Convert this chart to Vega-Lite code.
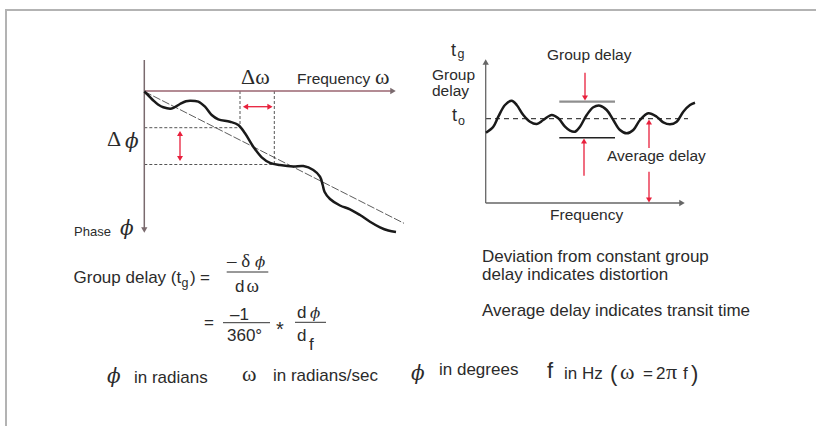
{
  "$schema": "https://vega.github.io/schema/vega-lite/v6.json",
  "width": 816,
  "height": 426,
  "autosize": {"type": "fit", "contains": "padding"},
  "padding": 0,
  "background": "white",
  "config": {"view": {"stroke": null}},
  "datasets": {
    "frame": [
      {"x": 5, "y": 9, "x2": 816, "y2": 11},
      {"x": 5, "y": 9, "x2": 7, "y2": 426}
    ],
    "seg": [
      {"g": "lh", "x": 144.3, "y": 91, "x2": 392, "y2": 91},
      {"g": "lv", "x": 144.3, "y": 60, "x2": 144.3, "y2": 229},
      {"g": "rax", "x": 485.7, "y": 64, "x2": 485.7, "y2": 203},
      {"g": "rax", "x": 485.7, "y": 203, "x2": 680, "y2": 203},
      {"g": "dash", "x": 240, "y": 91, "x2": 240, "y2": 127.7},
      {"g": "dash", "x": 274.3, "y": 91, "x2": 274.3, "y2": 164.5},
      {"g": "dash", "x": 144.3, "y": 127.7, "x2": 240, "y2": 127.7},
      {"g": "dash", "x": 144.3, "y": 164.5, "x2": 274.3, "y2": 164.5},
      {"g": "dashdot", "x": 144.3, "y": 91.5, "x2": 404, "y2": 223.3},
      {"g": "rdash", "x": 486, "y": 118.7, "x2": 688, "y2": 118.7},
      {"g": "red", "x": 247, "y": 106.7, "x2": 268, "y2": 106.7},
      {"g": "red", "x": 180, "y": 135, "x2": 180, "y2": 157},
      {"g": "red", "x": 585, "y": 72.7, "x2": 585, "y2": 96},
      {"g": "red", "x": 584, "y": 143, "x2": 584, "y2": 175.7},
      {"g": "red", "x": 649, "y": 124, "x2": 649, "y2": 148},
      {"g": "red", "x": 649, "y": 171.7, "x2": 649, "y2": 198},
      {"g": "bar", "x": 559.3, "y": 101.7, "x2": 615, "y2": 101.7},
      {"g": "blk", "x": 559.3, "y": 137.7, "x2": 615, "y2": 137.7},
      {"g": "frac", "x": 226.7, "y": 272, "x2": 268.3, "y2": 272},
      {"g": "frac", "x": 223, "y": 322.7, "x2": 270, "y2": 322.7},
      {"g": "frac", "x": 295, "y": 322.3, "x2": 326, "y2": 322.3}
    ],
    "heads": [
      {"g": "lax", "x": 144.3, "y": 230, "d": "down"},
      {"g": "lax", "x": 393, "y": 91, "d": "right"},
      {"g": "rax", "x": 485.7, "y": 62, "d": "up"},
      {"g": "rax", "x": 682, "y": 203, "d": "right"},
      {"g": "red", "x": 245.5, "y": 106.7, "d": "left"},
      {"g": "red", "x": 270, "y": 106.7, "d": "right"},
      {"g": "red", "x": 180, "y": 133.5, "d": "up"},
      {"g": "red", "x": 180, "y": 158.5, "d": "down"},
      {"g": "red", "x": 585, "y": 98, "d": "down"},
      {"g": "red", "x": 584, "y": 141, "d": "up"},
      {"g": "red", "x": 649, "y": 122, "d": "up"},
      {"g": "red", "x": 649, "y": 200, "d": "down"}
    ],
    "curves": [
      {"c": "phase", "x": 144.3, "y": 91.5},
      {"c": "phase", "x": 148, "y": 95},
      {"c": "phase", "x": 153.3, "y": 100.5},
      {"c": "phase", "x": 158, "y": 104.5},
      {"c": "phase", "x": 163.3, "y": 107.3},
      {"c": "phase", "x": 171.7, "y": 108.5},
      {"c": "phase", "x": 180, "y": 104},
      {"c": "phase", "x": 186, "y": 101.3},
      {"c": "phase", "x": 190, "y": 100.7},
      {"c": "phase", "x": 198.3, "y": 101.7},
      {"c": "phase", "x": 205, "y": 106.7},
      {"c": "phase", "x": 211.7, "y": 115},
      {"c": "phase", "x": 218.3, "y": 119.3},
      {"c": "phase", "x": 230, "y": 121.7},
      {"c": "phase", "x": 238.3, "y": 125},
      {"c": "phase", "x": 245, "y": 133.3},
      {"c": "phase", "x": 253.3, "y": 146.7},
      {"c": "phase", "x": 261.7, "y": 157.3},
      {"c": "phase", "x": 270, "y": 162.8},
      {"c": "phase", "x": 280, "y": 165},
      {"c": "phase", "x": 293.3, "y": 166.5},
      {"c": "phase", "x": 303.3, "y": 166},
      {"c": "phase", "x": 313.3, "y": 170},
      {"c": "phase", "x": 320, "y": 176.7},
      {"c": "phase", "x": 322.7, "y": 185},
      {"c": "phase", "x": 324.5, "y": 191.7},
      {"c": "phase", "x": 330, "y": 199},
      {"c": "phase", "x": 340, "y": 205.5},
      {"c": "phase", "x": 350, "y": 209.3},
      {"c": "phase", "x": 360, "y": 215},
      {"c": "phase", "x": 370, "y": 221.7},
      {"c": "phase", "x": 380, "y": 227.3},
      {"c": "phase", "x": 388.3, "y": 230.5},
      {"c": "phase", "x": 396, "y": 232},
      {"c": "delay", "x": 486, "y": 132.7},
      {"c": "delay", "x": 493.3, "y": 126.7},
      {"c": "delay", "x": 498.3, "y": 116.7},
      {"c": "delay", "x": 505, "y": 105},
      {"c": "delay", "x": 511.7, "y": 100.7},
      {"c": "delay", "x": 516.7, "y": 105},
      {"c": "delay", "x": 523.3, "y": 115},
      {"c": "delay", "x": 530, "y": 121.7},
      {"c": "delay", "x": 536.7, "y": 124},
      {"c": "delay", "x": 543.3, "y": 120},
      {"c": "delay", "x": 551.7, "y": 115},
      {"c": "delay", "x": 558.3, "y": 118.3},
      {"c": "delay", "x": 565, "y": 126.7},
      {"c": "delay", "x": 570, "y": 130.7},
      {"c": "delay", "x": 575, "y": 131.7},
      {"c": "delay", "x": 580, "y": 126.7},
      {"c": "delay", "x": 586.7, "y": 115},
      {"c": "delay", "x": 593.3, "y": 107.3},
      {"c": "delay", "x": 600, "y": 105.7},
      {"c": "delay", "x": 606.7, "y": 110},
      {"c": "delay", "x": 613.3, "y": 120},
      {"c": "delay", "x": 620, "y": 130},
      {"c": "delay", "x": 626.7, "y": 133.3},
      {"c": "delay", "x": 633.3, "y": 130},
      {"c": "delay", "x": 640, "y": 120},
      {"c": "delay", "x": 648.3, "y": 113.3},
      {"c": "delay", "x": 656.7, "y": 116.7},
      {"c": "delay", "x": 663.3, "y": 122.3},
      {"c": "delay", "x": 670, "y": 124.3},
      {"c": "delay", "x": 676.7, "y": 121.7},
      {"c": "delay", "x": 683.3, "y": 111.7},
      {"c": "delay", "x": 690, "y": 105},
      {"c": "delay", "x": 695, "y": 102.7}
    ],
    "txt": [
      {"r": "lab", "x": 297, "y": 84, "t": "Frequency"},
      {"r": "lab", "x": 547, "y": 60, "t": "Group delay"},
      {"r": "lab", "x": 607, "y": 161, "t": "Average delay"},
      {"r": "lab", "x": 550, "y": 220, "t": "Frequency"},
      {"r": "lab", "x": 432, "y": 80, "t": "Group"},
      {"r": "lab", "x": 432, "y": 96, "t": "delay"},
      {"r": "body", "x": 482, "y": 261.5, "t": "Deviation from constant group"},
      {"r": "body", "x": 482, "y": 279.5, "t": "delay indicates distortion"},
      {"r": "body", "x": 482, "y": 316, "t": "Average delay indicates transit time"},
      {"r": "body", "x": 73.5, "y": 283, "t": "Group delay (t"},
      {"r": "body", "x": 190, "y": 283, "t": ")"},
      {"r": "body", "x": 200, "y": 283, "t": "="},
      {"r": "body", "x": 204, "y": 328, "t": "="},
      {"r": "body", "x": 230, "y": 320, "t": "–1"},
      {"r": "body", "x": 227, "y": 341, "t": "360°"},
      {"r": "body", "x": 235, "y": 291.5, "t": "d"},
      {"r": "body", "x": 297, "y": 318, "t": "d"},
      {"r": "body", "x": 297, "y": 341, "t": "d"},
      {"r": "body", "x": 309, "y": 350, "t": "f"},
      {"r": "body", "x": 134, "y": 383, "t": "in radians"},
      {"r": "body", "x": 273, "y": 381, "t": "in radians/sec"},
      {"r": "body", "x": 439, "y": 375, "t": "in degrees"},
      {"r": "body", "x": 564, "y": 379, "t": "in Hz"},
      {"r": "body", "x": 643, "y": 379, "t": "="},
      {"r": "body", "x": 656, "y": 379, "t": "2"},
      {"r": "body", "x": 683, "y": 379, "t": "f"},
      {"r": "t", "x": 451, "y": 56, "t": "t"},
      {"r": "t", "x": 452, "y": 121, "t": "t"},
      {"r": "sub", "x": 457.5, "y": 58, "t": "g"},
      {"r": "sub", "x": 458, "y": 125, "t": "o"},
      {"r": "sub", "x": 181.5, "y": 287, "t": "g"},
      {"r": "small", "x": 74, "y": 236, "t": "Phase"},
      {"r": "big", "x": 610, "y": 381, "t": "("},
      {"r": "big", "x": 691, "y": 381, "t": ")"},
      {"r": "big", "x": 547, "y": 378, "t": "f"},
      {"r": "star", "x": 276, "y": 336, "t": "*"},
      {"r": "gr", "x": 241, "y": 83.5, "t": "Δω"},
      {"r": "gr", "x": 375, "y": 84, "t": "ω"},
      {"r": "gr", "x": 107, "y": 146, "t": "Δ"},
      {"r": "gr", "x": 242, "y": 381, "t": "ω"},
      {"r": "gr", "x": 620, "y": 379, "t": "ω"},
      {"r": "gr", "x": 666, "y": 379, "t": "π"},
      {"r": "grs", "x": 227, "y": 267, "t": "– δ"},
      {"r": "grs", "x": 246.5, "y": 291.5, "t": "ω"},
      {"r": "phi", "x": 125, "y": 148, "t": "ϕ"},
      {"r": "phi", "x": 120, "y": 235, "t": "ϕ"},
      {"r": "phi", "x": 107, "y": 383, "t": "ϕ"},
      {"r": "phi", "x": 411, "y": 380, "t": "ϕ"},
      {"r": "phis", "x": 255, "y": 267, "t": "ϕ"},
      {"r": "phis", "x": 310, "y": 318, "t": "ϕ"}
    ]
  },
  "encoding": {
    "x": {"field": "x", "type": "quantitative", "scale": {"domain": [0, 816], "nice": false, "zero": false}, "axis": null},
    "y": {"field": "y", "type": "quantitative", "scale": {"domain": [0, 426], "nice": false, "zero": false, "reverse": true}, "axis": null}
  },
  "layer": [
    {"data": {"name": "frame"}, "mark": {"type": "rect", "color": "#b3b3b3", "strokeWidth": 0}, "encoding": {"x2": {"field": "x2"}, "y2": {"field": "y2"}}},
    {"data": {"name": "seg"}, "transform": [{"filter": "datum.g == 'dash'"}], "mark": {"type": "rule", "color": "#555555", "strokeWidth": 1, "strokeDash": [3, 2]}, "encoding": {"x2": {"field": "x2"}, "y2": {"field": "y2"}}},
    {"data": {"name": "seg"}, "transform": [{"filter": "datum.g == 'dashdot'"}], "mark": {"type": "rule", "color": "#333333", "strokeWidth": 0.8, "strokeDash": [8, 2]}, "encoding": {"x2": {"field": "x2"}, "y2": {"field": "y2"}}},
    {"data": {"name": "seg"}, "transform": [{"filter": "datum.g == 'rdash'"}], "mark": {"type": "rule", "color": "#444444", "strokeWidth": 1.2, "strokeDash": [5, 4]}, "encoding": {"x2": {"field": "x2"}, "y2": {"field": "y2"}}},
    {"data": {"name": "seg"}, "transform": [{"filter": "datum.g == 'lh'"}], "mark": {"type": "rule", "color": "#9a6570", "strokeWidth": 1.5}, "encoding": {"x2": {"field": "x2"}, "y2": {"field": "y2"}}},
    {"data": {"name": "seg"}, "transform": [{"filter": "datum.g == 'lv'"}], "mark": {"type": "rule", "color": "#7a6a6e", "strokeWidth": 1.5}, "encoding": {"x2": {"field": "x2"}, "y2": {"field": "y2"}}},
    {"data": {"name": "seg"}, "transform": [{"filter": "datum.g == 'rax'"}], "mark": {"type": "rule", "color": "#666666", "strokeWidth": 1.3}, "encoding": {"x2": {"field": "x2"}, "y2": {"field": "y2"}}},
    {"data": {"name": "seg"}, "transform": [{"filter": "datum.g == 'red'"}], "mark": {"type": "rule", "color": "#e8203c", "strokeWidth": 1.3}, "encoding": {"x2": {"field": "x2"}, "y2": {"field": "y2"}}},
    {"data": {"name": "seg"}, "transform": [{"filter": "datum.g == 'bar'"}], "mark": {"type": "rule", "color": "#8f8f8f", "strokeWidth": 2.2}, "encoding": {"x2": {"field": "x2"}, "y2": {"field": "y2"}}},
    {"data": {"name": "seg"}, "transform": [{"filter": "datum.g == 'blk'"}], "mark": {"type": "rule", "color": "#222222", "strokeWidth": 1.5}, "encoding": {"x2": {"field": "x2"}, "y2": {"field": "y2"}}},
    {"data": {"name": "seg"}, "transform": [{"filter": "datum.g == 'frac'"}], "mark": {"type": "rule", "color": "#333333", "strokeWidth": 1}, "encoding": {"x2": {"field": "x2"}, "y2": {"field": "y2"}}},
    {"data": {"name": "curves"}, "mark": {"type": "line", "color": "#1a1a1a", "strokeWidth": 2.5, "interpolate": "catmull-rom"}, "encoding": {"detail": {"field": "c"}}},
    {"data": {"name": "heads"}, "transform": [{"filter": "datum.g == 'lax'"}], "mark": {"type": "point", "filled": true, "color": "#7a6a6e", "size": 40, "opacity": 1}, "encoding": {"shape": {"field": "d", "type": "nominal", "scale": {"domain": ["up", "down", "left", "right"], "range": ["triangle-up", "triangle-down", "triangle-left", "triangle-right"]}, "legend": null}}},
    {"data": {"name": "heads"}, "transform": [{"filter": "datum.g == 'rax'"}], "mark": {"type": "point", "filled": true, "color": "#666666", "size": 40, "opacity": 1}, "encoding": {"shape": {"field": "d", "type": "nominal", "scale": {"domain": ["up", "down", "left", "right"], "range": ["triangle-up", "triangle-down", "triangle-left", "triangle-right"]}, "legend": null}}},
    {"data": {"name": "heads"}, "transform": [{"filter": "datum.g == 'red'"}], "mark": {"type": "point", "filled": true, "color": "#e8203c", "size": 36, "opacity": 1}, "encoding": {"shape": {"field": "d", "type": "nominal", "scale": {"domain": ["up", "down", "left", "right"], "range": ["triangle-up", "triangle-down", "triangle-left", "triangle-right"]}, "legend": null}}},
    {"data": {"name": "txt"}, "transform": [{"filter": "datum.r == 'lab'"}], "mark": {"type": "text", "align": "left", "baseline": "alphabetic", "font": "Liberation Sans", "fontSize": 15.5, "color": "#2b2b2b"}, "encoding": {"text": {"field": "t"}}},
    {"data": {"name": "txt"}, "transform": [{"filter": "datum.r == 'body'"}], "mark": {"type": "text", "align": "left", "baseline": "alphabetic", "font": "Liberation Sans", "fontSize": 17, "color": "#2b2b2b"}, "encoding": {"text": {"field": "t"}}},
    {"data": {"name": "txt"}, "transform": [{"filter": "datum.r == 't'"}], "mark": {"type": "text", "align": "left", "baseline": "alphabetic", "font": "Liberation Sans", "fontSize": 18, "color": "#2b2b2b"}, "encoding": {"text": {"field": "t"}}},
    {"data": {"name": "txt"}, "transform": [{"filter": "datum.r == 'sub'"}], "mark": {"type": "text", "align": "left", "baseline": "alphabetic", "font": "Liberation Sans", "fontSize": 12.5, "color": "#2b2b2b"}, "encoding": {"text": {"field": "t"}}},
    {"data": {"name": "txt"}, "transform": [{"filter": "datum.r == 'small'"}], "mark": {"type": "text", "align": "left", "baseline": "alphabetic", "font": "Liberation Sans", "fontSize": 13, "color": "#2b2b2b"}, "encoding": {"text": {"field": "t"}}},
    {"data": {"name": "txt"}, "transform": [{"filter": "datum.r == 'big'"}], "mark": {"type": "text", "align": "left", "baseline": "alphabetic", "font": "Liberation Sans", "fontSize": 22, "color": "#2b2b2b"}, "encoding": {"text": {"field": "t"}}},
    {"data": {"name": "txt"}, "transform": [{"filter": "datum.r == 'star'"}], "mark": {"type": "text", "align": "left", "baseline": "alphabetic", "font": "Liberation Sans", "fontSize": 20, "color": "#2b2b2b"}, "encoding": {"text": {"field": "t"}}},
    {"data": {"name": "txt"}, "transform": [{"filter": "datum.r == 'gr'"}], "mark": {"type": "text", "align": "left", "baseline": "alphabetic", "font": "Liberation Serif", "fontSize": 22, "color": "#2b2b2b"}, "encoding": {"text": {"field": "t"}}},
    {"data": {"name": "txt"}, "transform": [{"filter": "datum.r == 'grs'"}], "mark": {"type": "text", "align": "left", "baseline": "alphabetic", "font": "Liberation Serif", "fontSize": 19, "color": "#2b2b2b"}, "encoding": {"text": {"field": "t"}}},
    {"data": {"name": "txt"}, "transform": [{"filter": "datum.r == 'phi'"}], "mark": {"type": "text", "align": "left", "baseline": "alphabetic", "font": "DejaVu Serif", "fontStyle": "italic", "fontSize": 20, "color": "#2b2b2b"}, "encoding": {"text": {"field": "t"}}},
    {"data": {"name": "txt"}, "transform": [{"filter": "datum.r == 'phis'"}], "mark": {"type": "text", "align": "left", "baseline": "alphabetic", "font": "DejaVu Serif", "fontStyle": "italic", "fontSize": 15, "color": "#2b2b2b"}, "encoding": {"text": {"field": "t"}}}
  ]
}
